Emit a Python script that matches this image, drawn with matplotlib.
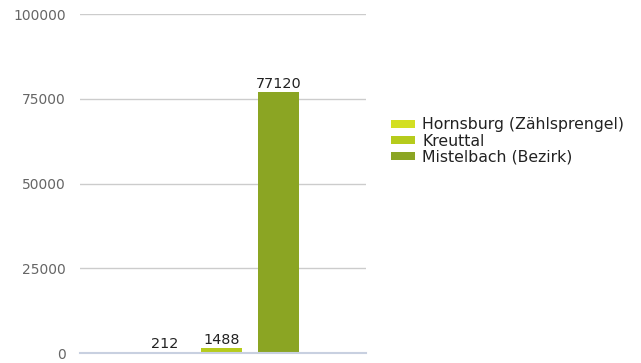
import matplotlib
matplotlib.use("Agg")
import matplotlib.pyplot as plt
from matplotlib.patches import Patch

names = ["Hornsburg (Zählsprengel)", "Kreuttal", "Mistelbach (Bezirk)"]
values = [212, 1488, 77120]
colors = ["#d3df22", "#b6cb1c", "#8ba523"]
yticks = [0, 25000, 50000, 75000, 100000]

fig = plt.figure(figsize=(6.41, 3.63), dpi=100)
ax = fig.add_axes([0.1248, 0.0275, 0.4462, 0.9339])

x = range(len(values))
bars = ax.bar(x, values, width=0.72, color=colors, zorder=3)
for xi, v in zip(x, values):
    ax.text(xi, v + 300, str(v), ha="center", va="bottom", fontsize=10.4, color="#222222")

ax.set_xlim(-1.49, 3.53)
ax.set_ylim(0, 100000)
ax.set_yticks(yticks)
ax.set_yticklabels([str(t) for t in yticks], fontsize=10, color="#666666")
ax.set_xticks([])
ax.tick_params(axis="y", length=0, pad=10)
ax.grid(axis="y", color="#cccccc", linewidth=1, zorder=0)
for s in ["top", "right", "left"]:
    ax.spines[s].set_visible(False)
ax.spines["bottom"].set_color("#c8d0e0")
ax.spines["bottom"].set_linewidth(1.5)
ax.spines["bottom"].set_zorder(4)

handles = [Patch(facecolor=c) for c in colors]
fig.legend(handles, names, loc="upper left", bbox_to_anchor=(0.600, 0.694),
           frameon=False, fontsize=11.3, handlelength=1.55, handleheight=0.4,
           handletextpad=0.45, labelspacing=0.08, borderaxespad=0, labelcolor="#222222")

fig.savefig("out.png", dpi=100)
